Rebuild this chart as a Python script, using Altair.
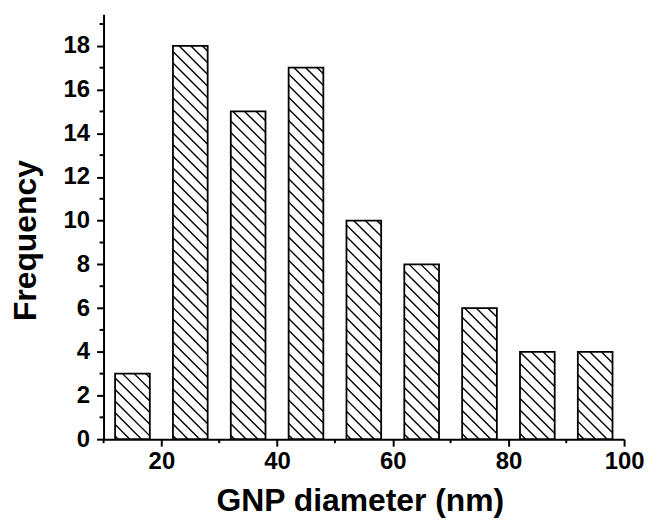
import altair as alt
import pandas as pd
import numpy as np

# ---- data ----
bin_centers = [15, 25, 35, 45, 55, 65, 75, 85, 95]
frequency = [3, 18, 15, 17, 10, 8, 6, 4, 4]
x_major = [20, 40, 60, 80, 100]
x_minor = [10, 30, 50, 70, 90]
y_major = [0, 2, 4, 6, 8, 10, 12, 14, 16, 18]
y_minor = [1, 3, 5, 7, 9, 11, 13, 15, 17, 19]

BAR_W = 6.0
X_DOM = [10, 100]
Y_DOM = [0, 19.45]
W, H = 523, 427
HATCH_PX = 11.7  # horizontal spacing of hatch lines in pixels

FONT = "Liberation Sans"

bars = pd.DataFrame({
    "x0": [c - BAR_W / 2 for c in bin_centers],
    "x1": [c + BAR_W / 2 for c in bin_centers],
    "freq": frequency,
    "base": [0] * len(frequency),
})

# hatch segments ("\" direction), computed in pixel space and mapped back to data
sx = W / (X_DOM[1] - X_DOM[0])
sy = H / (Y_DOM[1] - Y_DOM[0])
segs = []
for x0, x1, h in zip(bars.x0, bars.x1, bars.freq):
    X0, X1 = (x0 - X_DOM[0]) * sx, (x1 - X_DOM[0]) * sx
    Hb = h * sy
    k0 = int(np.floor(X0 / HATCH_PX))
    k1 = int(np.ceil((X1 + Hb) / HATCH_PX))
    for k in range(k0, k1 + 1):
        c = k * HATCH_PX + 3.0
        xa, xb = max(X0, c - Hb), min(X1, c)
        if xb - xa <= 0.5:
            continue
        segs.append({
            "hx": xa / sx + X_DOM[0], "hy": (c - xa) / sy,
            "hx2": xb / sx + X_DOM[0], "hy2": (c - xb) / sy,
        })
hatch = pd.DataFrame(segs)

xscale = alt.Scale(domain=X_DOM, nice=False, zero=False)
yscale = alt.Scale(domain=Y_DOM, nice=False, zero=False)

common = dict(
    labelFont=FONT, labelFontSize=24, labelFontWeight="bold", labelColor="black",
    titleFont=FONT, titleFontSize=32, titleFontWeight="bold", titleColor="black",
    tickSize=7, tickWidth=2, tickColor="black",
    domainWidth=2, domainColor="black", grid=False, labelFlush=False,
    titleBaseline="alphabetic", titleAlign="center",
)
xaxis = alt.Axis(values=x_major, title="GNP diameter (nm)", labelPadding=3,
                 titleX=257.5, titleY=72, titleAngle=0, **common)
yaxis = alt.Axis(values=y_major, title="Frequency", labelPadding=7,
                 titleX=-68, titleY=227, titleAngle=270, **common)

fill_layer = alt.Chart(bars).mark_rect(fill="white", stroke=None).encode(
    x=alt.X("x0:Q", scale=xscale, axis=xaxis),
    x2="x1:Q",
    y=alt.Y("freq:Q", scale=yscale, axis=yaxis),
    y2="base:Q",
)

hatch_layer = alt.Chart(hatch).mark_rule(color="black", strokeWidth=1.4).encode(
    x=alt.X("hx:Q", scale=xscale, axis=xaxis),
    x2="hx2:Q",
    y=alt.Y("hy:Q", scale=yscale, axis=yaxis),
    y2="hy2:Q",
)

outline_layer = alt.Chart(bars).mark_rect(fillOpacity=0, stroke="black", strokeWidth=1.8).encode(
    x=alt.X("x0:Q", scale=xscale, axis=xaxis),
    x2="x1:Q",
    y=alt.Y("freq:Q", scale=yscale, axis=yaxis),
    y2="base:Q",
)

ymin_layer = alt.Chart(pd.DataFrame({"ym": y_minor})).mark_rule(color="black", strokeWidth=2).encode(
    y=alt.Y("ym:Q", scale=yscale, axis=yaxis),
    x=alt.value(-4), x2=alt.value(0),
)

xmin_layer = alt.Chart(pd.DataFrame({"xm": x_minor})).mark_rule(color="black", strokeWidth=2).encode(
    x=alt.X("xm:Q", scale=xscale, axis=xaxis),
    y=alt.value(H), y2=alt.value(H + 4),
)

chart = alt.layer(fill_layer, hatch_layer, outline_layer, ymin_layer, xmin_layer).properties(
    width=W, height=H,
    autosize=alt.AutoSizeParams(type="none"),
    padding={"left": 96, "top": 5, "right": 20, "bottom": 81},
    background="white",
).configure_view(stroke=None)

chart.save("out.html", embed_options={"renderer": "svg", "actions": False})
